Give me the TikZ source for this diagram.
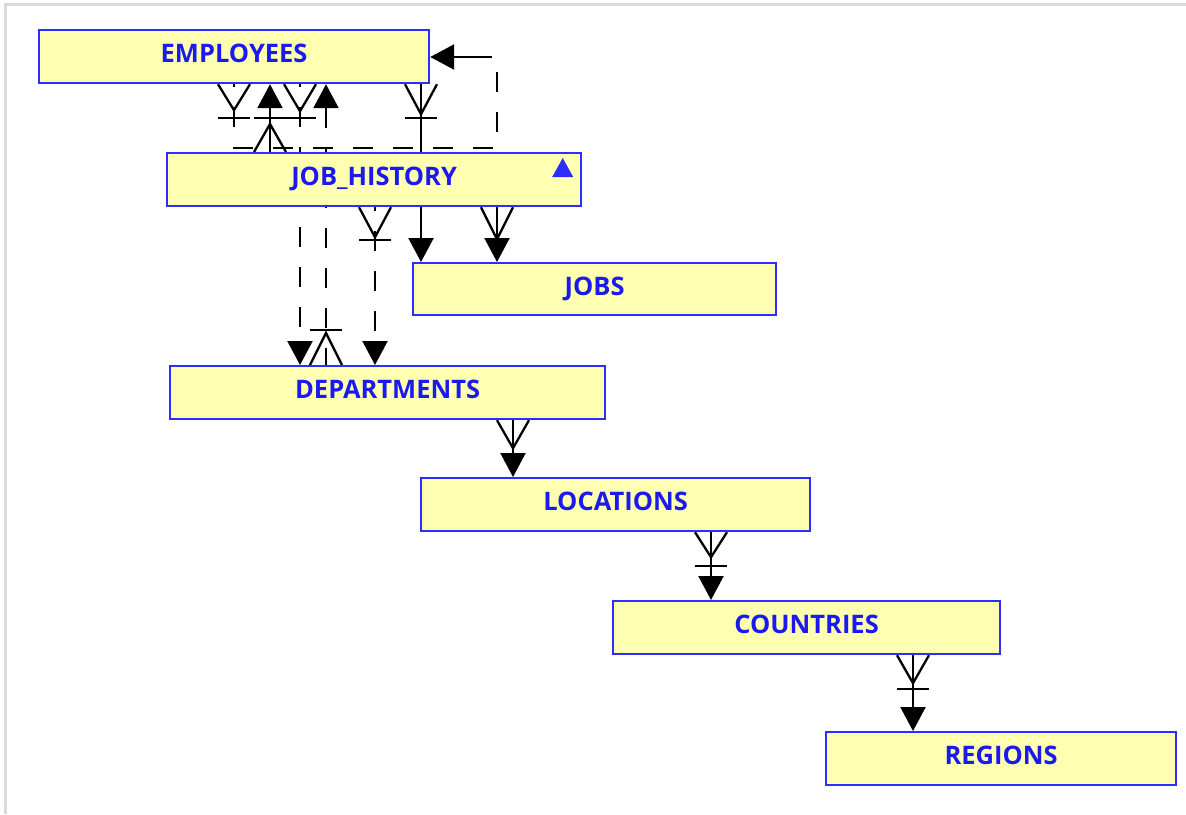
\documentclass[tikz,border=0pt]{standalone}
\usepackage{fontspec}
\setmainfont{Open Sans}
\usetikzlibrary{arrows.meta,backgrounds,calc}
\definecolor{boxyellow}{RGB}{255,255,178}
\definecolor{boxblue}{RGB}{45,45,255}
\definecolor{txtblue}{RGB}{25,25,240}
\definecolor{framegray}{RGB}{218,218,218}
\tikzset{
  box/.style={draw=boxblue, fill=boxyellow, line width=2.2pt, text=txtblue,
    font=\bfseries\fontsize{25.5}{26}\selectfont, minimum height=53pt,
    text height=18.5pt, text depth=6pt,
    inner sep=0pt, anchor=north west},
  conn/.style={line width=2.3pt, draw=black},
  dsh/.style={conn, dash pattern=on 20pt off 20pt},
  arr/.style={-{Triangle[length=24pt,width=25pt]}},
  pics/crow/.style={code={\draw[conn] (-16,0) -- (0,#1) -- (16,0);}},
  pics/crowbar/.style={code={\draw[conn] (-16,0) -- (16,0);}}
}
\begin{document}
\begin{tikzpicture}[x=1pt,y=-1pt]
\useasboundingbox (0,0) rectangle (1186,814);
\draw[framegray, line width=3pt] (5.5,814) -- (5.5,4.5) -- (1186,4.5);

\node[box, minimum width=390pt] (emp) at (38,29) {EMPLOYEES};
\node[box, minimum width=414pt] (jh) at (166,152) {JOB\_HISTORY};
\node[box, minimum width=363pt, minimum height=52pt] (jobs) at (412,262) {JOBS};
\node[box, minimum width=435pt] (dept) at (169,365) {DEPARTMENTS};
\node[box, minimum width=389pt] (loc) at (420,477) {LOCATIONS};
\node[box, minimum width=387pt] (cty) at (612,600) {COUNTRIES};
\node[box, minimum width=350pt] (reg) at (825,731) {REGIONS};
\fill[boxblue] ($(jh.north east)+(-30,25)$) -- ++(21,0) -- ++(-10.5,-19) -- cycle;

\begin{scope}[on background layer]
% EMPLOYEES self reference (manager)
\draw[dsh, dash phase=17pt] (emp.south -| 234,0) -- (234,148) -- (497,148) -- (497,57) -- (472,57);
\draw[conn,arr] (472,57) -- (emp.east |- 0,57);
\pic at (emp.south -| 234,0) {crow=26};
\pic at (234,118) {crowbar};
% JOB_HISTORY -> EMPLOYEES
\draw[conn,arr] (jh.north -| 270,0) -- (emp.south -| 270,0);
\pic[rotate=180] at (jh.north -| 270,0) {crow=28};
\pic at (270,118) {crowbar};
% EMPLOYEES -> DEPARTMENTS
\draw[dsh,arr, dash phase=17pt] (emp.south -| 300,0) -- (dept.north -| 300,0);
\pic at (emp.south -| 300,0) {crow=27};
\pic at (300,118) {crowbar};
% DEPARTMENTS -> EMPLOYEES (manager)
\draw[dsh,arr, dash phase=3pt] (dept.north -| 326,0) -- (emp.south -| 326,0);
\pic[rotate=180] at (dept.north -| 326,0) {crow=32};
\pic at (326,330) {crowbar};
% EMPLOYEES -> JOBS
\draw[conn,arr] (emp.south -| 421,0) -- (jobs.north -| 421,0);
\pic at (emp.south -| 421,0) {crow=30};
\pic at (421,118) {crowbar};
% JOB_HISTORY -> JOBS
\draw[conn,arr] (jh.south -| 497,0) -- (jobs.north -| 497,0);
\pic at (jh.south -| 497,0) {crow=32};
% JOB_HISTORY -> DEPARTMENTS
\draw[dsh,arr, dash phase=16pt] (jh.south -| 375,0) -- (dept.north -| 375,0);
\pic at (jh.south -| 375,0) {crow=30};
\pic at (375,240) {crowbar};
% DEPARTMENTS -> LOCATIONS
\draw[conn,arr] (dept.south -| 513,0) -- (loc.north -| 513,0);
\pic at (dept.south -| 513,0) {crow=28};
% LOCATIONS -> COUNTRIES
\draw[conn,arr] (loc.south -| 711,0) -- (cty.north -| 711,0);
\pic at (loc.south -| 711,0) {crow=25};
\pic at (711,566) {crowbar};
% COUNTRIES -> REGIONS
\draw[conn,arr] (cty.south -| 913,0) -- (reg.north -| 913,0);
\pic at (cty.south -| 913,0) {crow=28};
\pic at (913,689) {crowbar};
\end{scope}
\end{tikzpicture}
\end{document}
